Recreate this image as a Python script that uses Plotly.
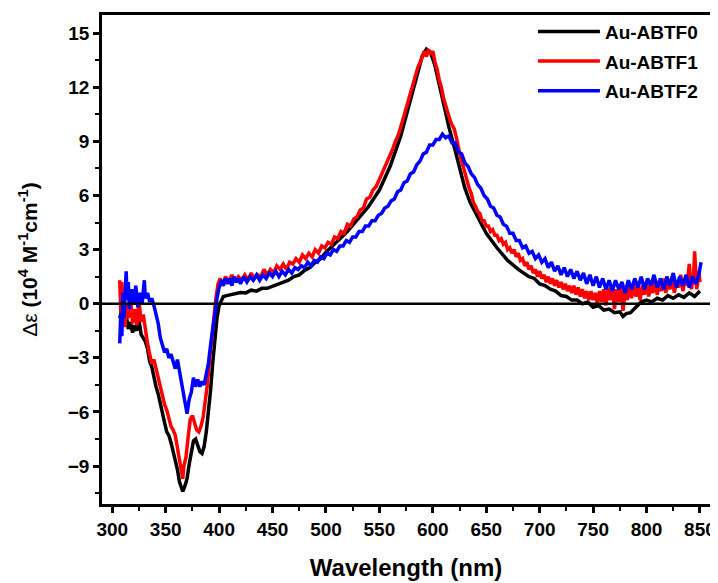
import plotly.graph_objects as go

# Au-ABTF0 (black)
wl_0 = [307, 309, 311, 313, 315, 317, 319, 321, 323, 325, 327, 329, 331, 333, 335, 337, 339,
        341, 343, 345, 347, 349, 351, 353, 355, 357, 359, 361, 363, 365, 366, 368, 370, 372,
        374, 376, 378, 380, 382, 384, 386, 388, 390, 392, 394, 396, 398, 400, 402, 404, 407,
        410, 415, 420, 425, 430, 435, 440, 445, 450, 455, 460, 465, 470, 475, 480, 485, 490,
        495, 500, 510, 520, 530, 540, 550, 560, 570, 580, 585, 590, 594, 598, 602, 606, 610,
        615, 620, 625, 630, 635, 640, 645, 650, 660, 670, 680, 690, 695, 700, 705, 710, 715,
        720, 725, 730, 735, 740, 745, 750, 755, 760, 765, 770, 775, 778, 781, 785, 790, 795,
        800, 805, 810, 815, 820, 825, 830, 835, 840, 845, 850]
de_0 = [-0.8, -0.3, -1.2, -0.6, -1.4, -1.0, -1.6, -1.2, -1.5, -0.9, -1.7, -1.9, -2.1, -2.5,
        -3.2, -3.5, -4.1, -4.6, -5.0, -5.6, -6.0, -6.6, -7.1, -7.3, -7.7, -8.2, -8.6, -9.2,
        -9.9, -10.3, -10.4, -10.1, -9.7, -8.9, -8.1, -7.6, -7.5, -7.8, -8.2, -8.3, -7.9, -7.1,
        -6.0, -4.8, -3.3, -2.0, -0.8, -0.1, 0.2, 0.4, 0.45, 0.5, 0.55, 0.62, 0.6, 0.75, 0.7,
        0.85, 0.85, 0.95, 1.05, 1.2, 1.3, 1.5, 1.6, 1.85, 2.0, 2.3, 2.5, 2.85, 3.4, 4.0, 4.7,
        5.4, 6.3, 7.6, 9.3, 11.5, 12.6, 13.7, 14.1, 13.9, 13.2, 12.1, 11.2, 9.8, 8.7, 7.6,
        6.4, 5.6, 5.0, 4.5, 3.9, 3.1, 2.4, 1.9, 1.5, 1.4, 1.1, 1.0, 0.8, 0.7, 0.45, 0.4, 0.2,
        0.2, 0.0, 0.1, -0.2, -0.1, -0.35, -0.3, -0.5, -0.45, -0.7, -0.55, -0.5, -0.2, 0.1,
        0.2, 0.1, 0.3, 0.2, 0.45, 0.3, 0.5, 0.35, 0.6, 0.4, 0.7]

# Au-ABTF1 (red)
wl_1 = [307, 308, 309, 310, 311, 312, 313, 315, 317, 319, 321, 323, 325, 327, 329, 331, 333,
        335, 337, 339, 341, 343, 345, 347, 349, 351, 353, 355, 357, 359, 361, 363, 365, 366,
        367, 369, 371, 373, 375, 377, 379, 381, 383, 385, 387, 389, 391, 393, 395, 397, 399,
        401, 403, 406, 409, 412, 415, 418, 421, 424, 427, 430, 433, 436, 439, 442, 445, 448,
        451, 454, 457, 460, 463, 466, 469, 472, 475, 478, 481, 484, 487, 490, 493, 496, 499,
        502, 505, 508, 511, 514, 517, 520, 523, 526, 529, 532, 535, 538, 541, 544, 547, 550,
        553, 556, 559, 562, 565, 568, 571, 574, 577, 580, 583, 586, 589, 592, 594, 596, 598,
        600, 602, 604, 606, 608, 610, 612, 614, 616, 618, 620, 622, 624, 626, 628, 630, 632,
        634, 636, 638, 640, 642, 644, 646, 648, 650, 652, 654, 656, 658, 660, 662, 664, 666,
        668, 670, 672, 674, 676, 678, 680, 682, 684, 686, 688, 690, 692, 694, 696, 698, 700,
        702, 704, 706, 708, 710, 712, 714, 716, 718, 720, 722, 724, 726, 728, 730, 732, 734,
        736, 738, 740, 742, 744, 746, 748, 750, 752, 754, 756, 758, 760, 762, 764, 766, 768,
        770, 772, 774, 776, 778, 780, 782, 784, 786, 788, 790, 792, 794, 796, 798, 800, 802,
        804, 806, 808, 810, 812, 814, 816, 818, 820, 822, 824, 826, 828, 830, 832, 834, 836,
        838, 840, 842, 844, 845, 847, 849, 850]
de_1 = [1.3, -0.5, 1.2, -1.0, 0.3, -1.3, 0.0, -0.8, 0.4, -1.1, -0.3, -1.2, 0.2, -1.0, -0.6,
        -1.5, -2.2, -2.8, -3.3, -3.1, -3.6, -4.3, -4.8, -5.3, -5.6, -5.9, -6.4, -6.8, -7.0,
        -7.3, -8.0, -8.7, -9.4, -9.7, -9.0, -8.5, -7.4, -6.4, -6.2, -6.6, -7.0, -7.1, -6.8,
        -6.3, -5.5, -4.5, -3.2, -2.0, -0.8, 0.3, 1.1,
        1.4, 1.0, 1.5, 1.2, 1.6, 1.2, 1.5, 1.3, 1.6, 1.3, 1.7, 1.4, 1.6, 1.5, 1.9, 1.6, 1.9,
        1.7, 2.1, 1.9, 2.2, 1.9, 2.3, 2.2, 2.5, 2.3, 2.7, 2.5, 2.8, 2.6, 3.0, 2.8, 3.2, 3.1,
        3.4, 3.3, 3.7, 3.6, 4.0, 3.9, 4.4, 4.3, 4.7, 4.8, 5.2, 5.3, 5.8, 5.9, 6.3, 6.5, 6.9,
        7.2, 7.6, 8.1, 8.5, 9.0, 9.4, 10.0, 10.6, 11.2, 11.9, 12.5, 13.1, 13.5, 14.0, 13.7,
        14.1, 13.8, 14.0, 13.4, 13.0, 12.4, 12.0, 11.4, 11.0, 10.5, 10.2, 9.9, 9.7, 9.2, 8.6,
        8.1, 7.7, 7.2, 6.9, 6.4, 6.1, 5.6, 5.4, 5.1, 5.0, 4.6, 4.6, 4.3, 4.3, 4.0, 4.1, 3.8,
        3.8, 3.5, 3.6, 3.3, 3.4, 3.0, 3.1, 2.8, 3.0, 2.6, 2.8, 2.4, 2.5, 2.1, 2.3, 1.9, 2.1,
        1.7, 1.9, 1.5, 1.8, 1.4, 1.6, 1.2, 1.5, 1.1, 1.4, 1.0, 1.3, 0.9, 1.2, 0.8, 1.1, 0.7,
        1.0, 0.6, 1.0, 0.5, 0.9, 0.4, 0.8, 0.3, 0.7, 0.2, 0.7, 0.2, 0.6, 0.0, 0.7, 0.1, 0.8,
        -0.1, 0.9, 0.2, 1.0, -0.3, 0.8, 0.1, 0.9, -0.4, 0.7, 0.2, 1.0, 0.3, 1.1, 0.4, 0.9,
        0.2, 1.0, 0.5, 1.2, 0.4, 1.0, 0.6, 1.3, 0.5, 1.1, 0.7, 1.4, 0.6, 1.2, 0.8, 1.5, 0.6,
        1.2, 0.9, 1.6, 0.7, 1.3, 1.0, 2.2, 0.8, 1.5, 2.9, 0.8, 1.8, 1.2]

# Au-ABTF2 (blue)
wl_2 = [307, 308, 309, 310, 311, 312, 313, 314, 315, 316, 318, 320, 322, 324, 326, 328, 330,
        331, 333, 335, 337, 339, 341, 343, 345, 347, 349, 351, 353, 355, 357, 359, 361, 363,
        365, 367, 369, 370, 372, 374, 376, 378, 380, 382, 384, 386, 388, 390, 392, 394, 396,
        398, 400, 402, 404, 406, 408, 410, 412, 414, 416, 418, 420, 423, 426, 429, 432, 435,
        438, 441, 444, 447, 450, 453, 456, 459, 462, 465, 468, 471, 474, 477, 480, 483, 486,
        489, 492, 495, 498, 501, 504, 507, 510, 513, 516, 519, 522, 525, 528, 531, 534, 537,
        540, 543, 546, 549, 552, 555, 558, 561, 564, 567, 570, 573, 576, 579, 582, 585, 588,
        591, 594, 597, 600, 603, 606, 609, 612, 615, 618, 621, 624, 627, 630, 633, 636, 639,
        642, 645, 648, 651, 654, 657, 660, 663, 666, 669, 672, 675, 678, 681, 684, 687, 690,
        693, 696, 699, 702, 705, 708, 711, 714, 717, 720, 723, 726, 729, 732, 735, 738, 741,
        744, 747, 750, 753, 756, 759, 762, 765, 768, 771, 774, 777, 780, 783, 786, 789, 792,
        795, 798, 801, 804, 807, 810, 813, 816, 819, 822, 825, 828, 831, 834, 837, 840, 843,
        846, 849, 851]
de_2 = [-2.2, -0.5, -1.8, 0.6, -0.8, 1.1, 1.8, 0.2, 1.2, -0.3, 0.8, 0.0, 1.0, -0.2, 0.6,
        0.0, 1.3, 0.3, 0.6, 0.1, 0.3, -0.1, -0.6, -1.1, -1.9, -2.3, -2.7, -2.5, -3.0, -2.8,
        -3.3, -3.6, -3.1, -3.8, -4.5, -5.2, -5.9, -6.1, -5.3, -4.9, -4.1, -4.6, -4.2, -4.6,
        -4.3, -4.5, -3.9, -3.3, -2.3, -1.3, -0.4,
        0.3, 0.9, 1.3, 1.0, 1.4, 1.1, 1.4, 1.0, 1.5, 1.2, 1.4, 1.1, 1.5, 1.2, 1.5, 1.3, 1.6,
        1.3, 1.6, 1.4, 1.7, 1.5, 1.8, 1.5, 1.8, 1.6, 1.9, 1.7, 2.0, 1.9, 2.1, 2.0, 2.3, 2.1,
        2.4, 2.3, 2.6, 2.5, 2.8, 2.7, 3.0, 2.9, 3.2, 3.2, 3.5, 3.4, 3.7, 3.7, 4.0, 4.0, 4.3,
        4.3, 4.6, 4.6, 4.9, 5.0, 5.3, 5.4, 5.7, 5.8, 6.2, 6.3, 6.7, 6.8, 7.2, 7.3, 7.7, 7.9,
        8.3, 8.4, 8.8, 8.8, 9.1, 9.1, 9.4, 9.2, 9.3, 8.9, 8.9, 8.4, 8.3, 7.8, 7.6, 7.2, 7.0,
        6.6, 6.4, 6.0, 5.8, 5.4, 5.3, 4.9, 4.8, 4.4, 4.3, 3.9, 3.9, 3.5, 3.5, 3.1, 3.2, 2.8,
        2.9, 2.5, 2.7, 2.3, 2.5, 2.0, 2.3, 1.8, 2.1, 1.6, 2.0, 1.5, 1.9, 1.4, 1.8, 1.3, 1.7,
        1.1, 1.6, 1.0, 1.5, 0.9, 1.4, 0.8, 1.3, 0.7, 1.3, 0.8, 1.2, 0.6, 1.3, 0.8, 1.4, 0.9,
        1.5, 0.8, 1.4, 1.0, 1.6, 0.9, 1.4, 0.8, 1.5, 1.0, 1.7, 0.9, 1.5, 1.0, 1.6, 0.9, 1.5,
        1.1, 1.6, 2.3]

x_ticks = [300, 350, 400, 450, 500, 550, 600, 650, 700, 750, 800, 850]
y_ticks = [-9, -6, -3, 0, 3, 6, 9, 12, 15]

series = [
    ("Au-ABTF0", wl_0, de_0, "#000000"),
    ("Au-ABTF1", wl_1, de_1, "#ff0000"),
    ("Au-ABTF2", wl_2, de_2, "#0000ff"),
]

FONT = "Liberation Sans, Arial, sans-serif"

fig = go.Figure()
for name, x, y, color in series:
    fig.add_trace(go.Scatter(x=x, y=y, mode="lines", name=name, legendgroup=name,
                             line=dict(color=color, width=3.5)))

# y = 0 reference line, drawn over the curves
fig.add_shape(type="line", xref="paper", x0=0, x1=1, yref="y", y0=0, y1=0,
              line=dict(color="black", width=2.5), layer="above")

axis_common = dict(
    showline=True, linecolor="black", linewidth=2.5, mirror=True,
    ticks="outside", ticklen=6, tickwidth=2.5, tickcolor="black",
    showgrid=False, zeroline=False, automargin=False,
    tickfont=dict(family=FONT, size=19, color="black", weight="bold"),
)

fig.update_xaxes(
    range=[290.4, 859.4], tickvals=x_ticks,
    minor=dict(ticks="outside", ticklen=4, tickwidth=2, tickcolor="black", dtick=25, tick0=0),
    title=dict(text="Wavelength (nm)", standoff=21,
               font=dict(family=FONT, size=24, color="black", weight="bold")),
    **axis_common,
)
fig.update_yaxes(
    range=[-11.1, 16.0], tickvals=y_ticks,
    minor=dict(ticks="outside", ticklen=4, tickwidth=2, tickcolor="black", dtick=1.5, tick0=0),
    title=dict(text="Δε <b>(10<sup>4</sup> M<sup>-1</sup>cm<sup>-1</sup>)</b>", standoff=25,
               font=dict(family=FONT, size=21, color="black")),
    **axis_common,
)

# the page body keeps its 8 px margin, so the figure is 8 px smaller each way
fig.update_layout(
    width=710, height=575,
    margin=dict(l=94, r=8, t=5, b=79),
    plot_bgcolor="white", paper_bgcolor="white",
    legend=dict(x=0.99, y=1.005, xanchor="right", yanchor="top",
                bgcolor="rgba(0,0,0,0)", itemwidth=62, tracegroupgap=2,
                font=dict(family=FONT, size=19, color="black", weight="bold")),
)

fig.write_html("out.html")
